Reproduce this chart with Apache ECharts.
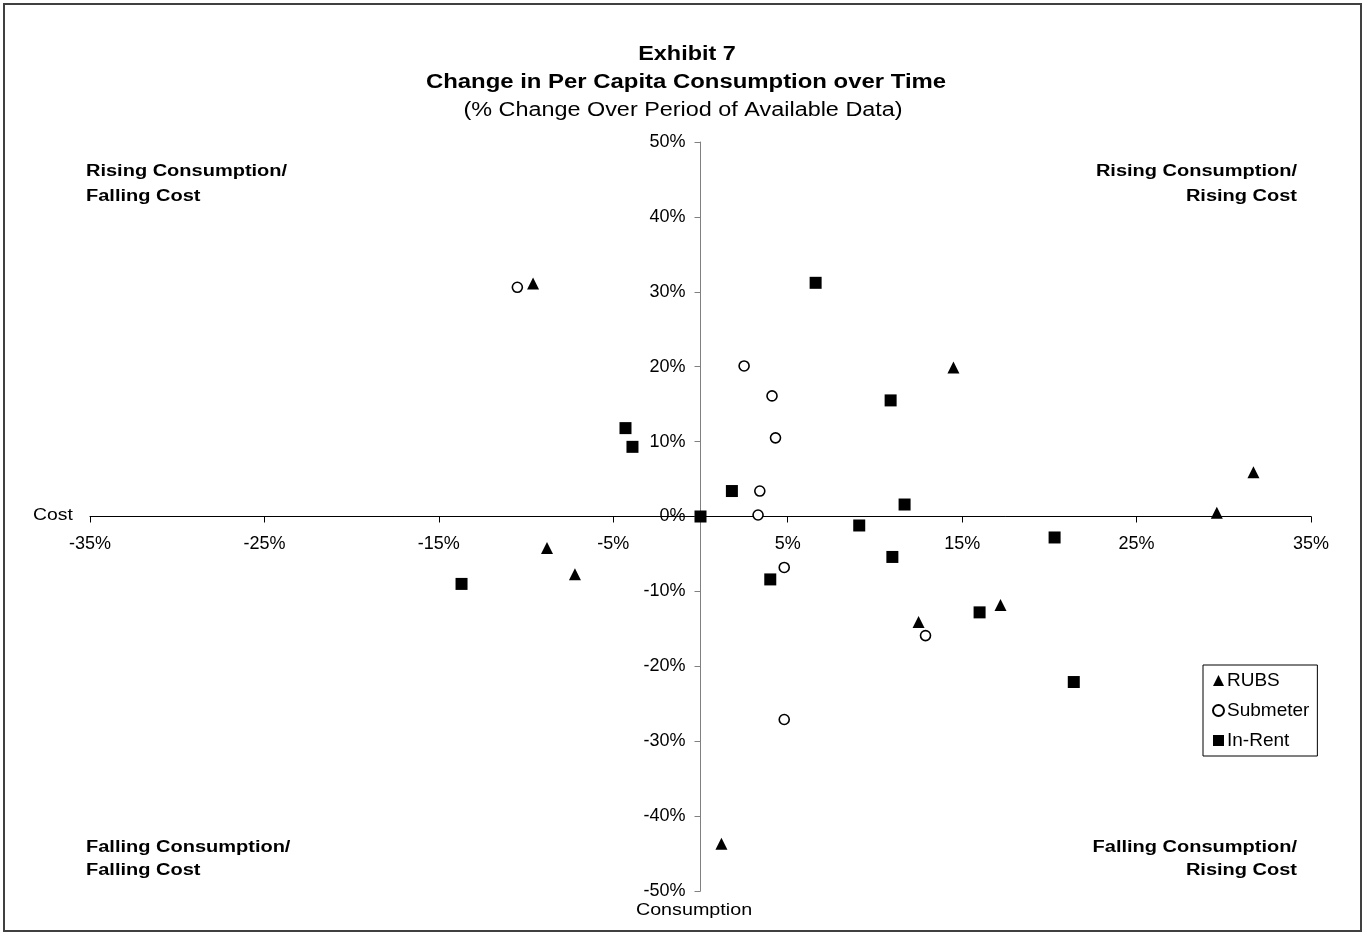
<!DOCTYPE html>
<html>
<head>
<meta charset="utf-8">
<script src="https://cdn.jsdelivr.net/npm/echarts@6/dist/echarts.min.js"></script>
<style>
html,body{margin:0;padding:0;background:#fff;}
#chart{width:1365px;height:935px;}
</style>
</head>
<body>
<div id="chart"></div>
<script>
// Data: [cost change %, consumption change %]
const rubs = [[-9.6,31.1],[-8.8,-4.2],[-7.2,-7.7],[14.5,19.9],[31.7,5.9],[29.6,0.5],[12.5,-14.1],[17.2,-11.8],[1.2,-43.7]];
const submeter = [[-10.5,30.6],[2.5,20.1],[4.1,16.1],[4.3,10.5],[3.4,3.4],[3.3,0.2],[4.8,-6.8],[12.9,-15.9],[4.8,-27.1]];
const inRent = [[6.6,31.2],[-4.3,11.8],[-3.9,9.3],[1.8,3.4],[0,0],[10.9,15.5],[11.7,1.6],[9.1,-1.2],[11.0,-5.4],[4.0,-8.4],[20.3,-2.8],[16.0,-12.8],[21.4,-22.1],[-13.7,-9.0]];
const seriesNames = ['RUBS','Submeter','In-Rent'];
const xTicks = [-35,-25,-15,-5,5,15,25,35];
const titleLines = ['Exhibit 7','Change in Per Capita Consumption over Time','(% Change Over Period of Available Data)'];
const quadrantLabels = {
  tl: ['Rising Consumption/','Falling Cost'],
  tr: ['Rising Consumption/','Rising Cost'],
  bl: ['Falling Consumption/','Falling Cost'],
  br: ['Falling Consumption/','Rising Cost']
};
const xAxisName = 'Cost';
const yAxisName = 'Consumption';

const FF = 'Liberation Sans, Arial, sans-serif';
const chart = echarts.init(document.getElementById('chart'));

const G = {left:90, right:54, top:142, bottom:44};
const gridW = 1365 - G.left - G.right;
const gridH = 935 - G.top - G.bottom;

function txt(text, x, y, font, align, sx) {
  return {type:'text', x:x, y:y, scaleX:sx, z:10,
    style:{text:text, font:font, fill:'#000', textAlign:align, textVerticalAlign:'middle'}};
}

const graphics = [
  {type:'rect', shape:{x:4,y:4,width:1357,height:927}, style:{fill:'none', stroke:'#404040', lineWidth:2}, z:0},
  txt(titleLines[0], 687, 54, 'bold 20px ' + FF, 'center', 1.17),
  txt(titleLines[1], 686, 82, 'bold 20px ' + FF, 'center', 1.195),
  txt(titleLines[2], 683, 110, '20px ' + FF, 'center', 1.17),
  txt(quadrantLabels.tl[0], 86, 172, 'bold 16px ' + FF, 'left', 1.25),
  txt(quadrantLabels.tl[1], 86, 197, 'bold 16px ' + FF, 'left', 1.25),
  txt(quadrantLabels.tr[0], 1297, 172, 'bold 16px ' + FF, 'right', 1.25),
  txt(quadrantLabels.tr[1], 1297, 197, 'bold 16px ' + FF, 'right', 1.25),
  txt(quadrantLabels.bl[0], 86, 848, 'bold 16px ' + FF, 'left', 1.25),
  txt(quadrantLabels.bl[1], 86, 871, 'bold 16px ' + FF, 'left', 1.25),
  txt(quadrantLabels.br[0], 1297, 848, 'bold 16px ' + FF, 'right', 1.25),
  txt(quadrantLabels.br[1], 1297, 871, 'bold 16px ' + FF, 'right', 1.25),
  txt(xAxisName, 33, 515, '17px ' + FF, 'left', 1.14),
  txt(yAxisName, 694, 910, '17px ' + FF, 'center', 1.16)
];

chart.setOption({
  animation:false,
  backgroundColor:'#fff',
  textStyle:{fontFamily:FF},
  grid:{left:G.left, right:G.right, top:G.top, bottom:G.bottom, containLabel:false},
  legend:{
    orient:'vertical', left:1203, top:665,
    data:seriesNames,
    itemWidth:11, itemHeight:11, itemGap:11,
    padding:[6,8,6,9],
    borderColor:'#000', borderWidth:1, backgroundColor:'#fff',
    textStyle:{fontSize:19, color:'#000', fontFamily:FF, padding:[0,0,0,-2]}
  },
  xAxis:{
    type:'value', min:-35, max:35,
    position:'bottom', offset:-gridH/2,
    axisLine:{onZero:false, lineStyle:{color:'#000', width:1}},
    axisTick:{show:true, inside:false, length:6, lineStyle:{color:'#000'}, customValues:xTicks},
    axisLabel:{customValues:xTicks, margin:19, fontSize:18, color:'#000', fontFamily:FF,
      formatter:function(v){return v + '%';}},
    splitLine:{show:false}
  },
  yAxis:{
    type:'value', min:-50, max:50, interval:10,
    position:'left', offset:-gridW/2,
    axisLine:{onZero:false, lineStyle:{color:'#808080', width:1}},
    axisTick:{show:true, length:6, lineStyle:{color:'#808080'}},
    axisLabel:{margin:15, fontSize:18, color:'#000', fontFamily:FF,
      formatter:function(v){return v + '%';}},
    splitLine:{show:false}
  },
  series:[
    {name:seriesNames[0], type:'scatter', data:rubs, symbol:'triangle', symbolSize:12,
      itemStyle:{color:'#000', opacity:1}},
    {name:seriesNames[1], type:'scatter', data:submeter, symbol:'circle', symbolSize:10,
      itemStyle:{color:'#fff', borderColor:'#000', borderWidth:1.6, opacity:1}},
    {name:seriesNames[2], type:'scatter', data:inRent, symbol:'rect', symbolSize:12,
      itemStyle:{color:'#000', opacity:1}}
  ],
  graphic:graphics
});
</script>
</body>
</html>
